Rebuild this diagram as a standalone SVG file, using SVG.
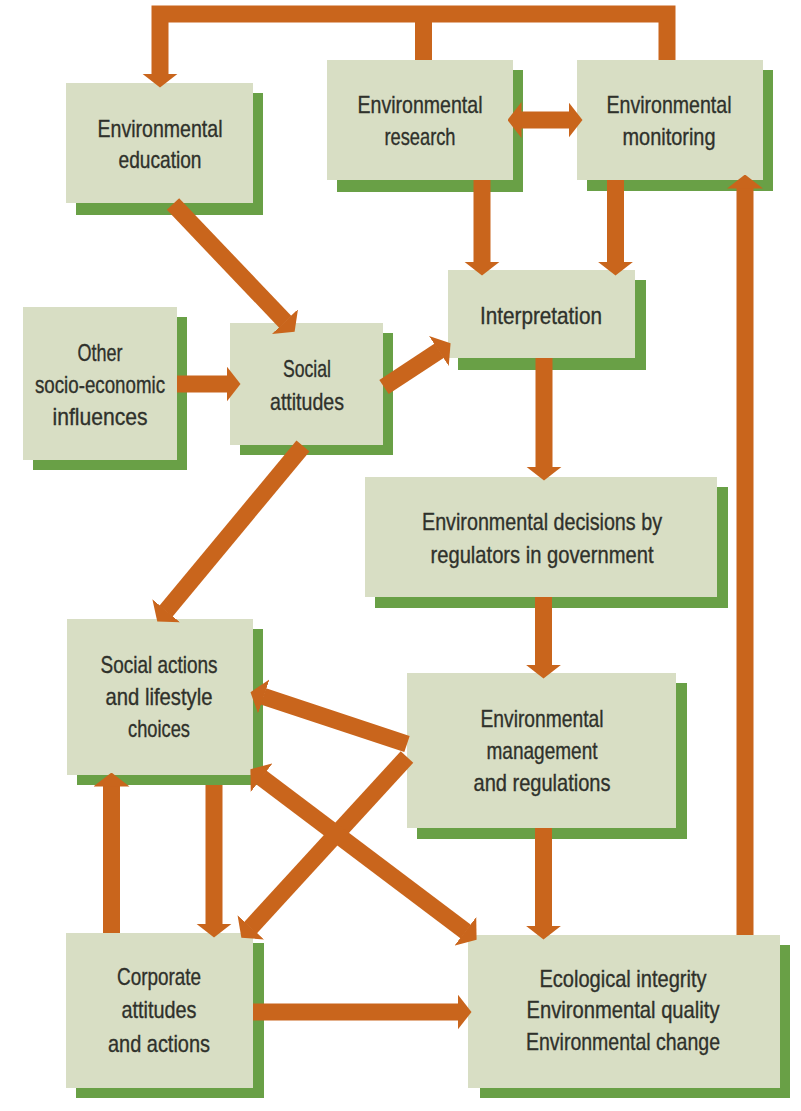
<svg xmlns="http://www.w3.org/2000/svg" width="801" height="1111" viewBox="0 0 801 1111">
<defs>
<style>
.box{fill:#d8dec4}
.sh{fill:#69a046}
.t{font-family:"Liberation Sans",Arial,sans-serif;font-size:24px;fill:#2f312b;stroke:#2f312b;stroke-width:0.35;text-anchor:middle}
.c{fill:none;stroke:#c9651c;stroke-width:17;stroke-linejoin:miter}
.a{marker-end:url(#ah)}
.d{marker-start:url(#ah);marker-end:url(#ah)}
</style>
<marker id="ah" markerUnits="userSpaceOnUse" viewBox="0 0 14 36" markerWidth="14" markerHeight="36" refX="0.5" refY="18" orient="auto-start-reverse">
<path d="M0,0 L14,18 L0,36 Z" fill="#c9651c"/>
</marker>
</defs>
<rect width="801" height="1111" fill="#ffffff"/>
<g id="n-edu"><rect class="sh" x="76" y="93" width="187" height="122"/><rect class="box" x="66" y="83" width="187" height="120"/><text class="t" x="160" y="137" textLength="125" lengthAdjust="spacingAndGlyphs">Environmental</text><text class="t" x="160" y="168" textLength="83" lengthAdjust="spacingAndGlyphs">education</text></g>
<g id="n-research"><rect class="sh" x="337" y="70" width="186" height="122"/><rect class="box" x="327" y="60" width="186" height="120"/><text class="t" x="420" y="113" textLength="125" lengthAdjust="spacingAndGlyphs">Environmental</text><text class="t" x="420" y="145" textLength="71" lengthAdjust="spacingAndGlyphs">research</text></g>
<g id="n-monitoring"><rect class="sh" x="587" y="70" width="186" height="121"/><rect class="box" x="577" y="60" width="186" height="120"/><text class="t" x="669" y="113" textLength="125" lengthAdjust="spacingAndGlyphs">Environmental</text><text class="t" x="669" y="145" textLength="93" lengthAdjust="spacingAndGlyphs">monitoring</text></g>
<g id="n-other"><rect class="sh" x="33" y="317" width="154" height="153"/><rect class="box" x="23" y="307" width="154" height="153"/><text class="t" x="100" y="361" textLength="45" lengthAdjust="spacingAndGlyphs">Other</text><text class="t" x="100" y="393" textLength="130" lengthAdjust="spacingAndGlyphs">socio-economic</text><text class="t" x="100" y="425" textLength="95" lengthAdjust="spacingAndGlyphs">influences</text></g>
<g id="n-socatt"><rect class="sh" x="240" y="333" width="153" height="122"/><rect class="box" x="230" y="323" width="153" height="122"/><text class="t" x="307" y="377" textLength="48" lengthAdjust="spacingAndGlyphs">Social</text><text class="t" x="307" y="410" textLength="74" lengthAdjust="spacingAndGlyphs">attitudes</text></g>
<g id="n-interp"><rect class="sh" x="458" y="280" width="188" height="90"/><rect class="box" x="448" y="270" width="187" height="88"/><text class="t" x="541" y="324" textLength="122" lengthAdjust="spacingAndGlyphs">Interpretation</text></g>
<g id="n-decisions"><rect class="sh" x="375" y="487" width="353" height="121"/><rect class="box" x="365" y="477" width="352" height="120"/><text class="t" x="542" y="530" textLength="240" lengthAdjust="spacingAndGlyphs">Environmental decisions by</text><text class="t" x="542" y="563" textLength="223" lengthAdjust="spacingAndGlyphs">regulators in government</text></g>
<g id="n-socact"><rect class="sh" x="77" y="629" width="186" height="156"/><rect class="box" x="67" y="619" width="186" height="156"/><text class="t" x="159" y="673" textLength="117" lengthAdjust="spacingAndGlyphs">Social actions</text><text class="t" x="159" y="705" textLength="107" lengthAdjust="spacingAndGlyphs">and lifestyle</text><text class="t" x="159" y="737" textLength="62" lengthAdjust="spacingAndGlyphs">choices</text></g>
<g id="n-mgmt"><rect class="sh" x="417" y="683" width="270" height="156"/><rect class="box" x="407" y="673" width="269" height="155"/><text class="t" x="542" y="727" textLength="123" lengthAdjust="spacingAndGlyphs">Environmental</text><text class="t" x="542" y="759" textLength="111" lengthAdjust="spacingAndGlyphs">management</text><text class="t" x="542" y="791" textLength="137" lengthAdjust="spacingAndGlyphs">and regulations</text></g>
<g id="n-corp"><rect class="sh" x="76" y="943" width="188" height="155"/><rect class="box" x="66" y="933" width="187" height="155"/><text class="t" x="159" y="985" textLength="84" lengthAdjust="spacingAndGlyphs">Corporate</text><text class="t" x="159" y="1018" textLength="75" lengthAdjust="spacingAndGlyphs">attitudes</text><text class="t" x="159" y="1052" textLength="102" lengthAdjust="spacingAndGlyphs">and actions</text></g>
<g id="n-eco"><rect class="sh" x="480" y="945" width="310" height="153"/><rect class="box" x="468" y="935" width="312" height="153"/><text class="t" x="623" y="987" textLength="167" lengthAdjust="spacingAndGlyphs">Ecological integrity</text><text class="t" x="623" y="1018" textLength="193" lengthAdjust="spacingAndGlyphs">Environmental quality</text><text class="t" x="623" y="1050" textLength="194" lengthAdjust="spacingAndGlyphs">Environmental change</text></g>
<g id="connectors">
<path class="c a" d="M667,60 V14 H160 V74"/>
<path class="c" d="M423.5,14 V60"/>
<path class="c d" d="M521,120 H569"/>
<path class="c a" d="M482,180 V262"/>
<path class="c a" d="M615.5,180 V262"/>
<path class="c a" d="M544,358 V467"/>
<path class="c a" d="M543.5,597 V665"/>
<path class="c a" d="M543.5,828 V926"/>
<path class="c a" d="M745,935 V188"/>
<path class="c a" d="M173,204 L285.3,321.9"/>
<path class="c a" d="M177,384 H227"/>
<path class="c a" d="M384,387 L439.3,350.7"/>
<path class="c a" d="M303,446 L165.9,611.2"/>
<path class="c a" d="M407,744 L263.3,696.4"/>
<path class="c a" d="M407,757 L250.5,927.7"/>
<path class="c d" d="M261.2,777.4 L465.8,931.6"/>
<path class="c a" d="M111.5,933 V786"/>
<path class="c a" d="M214,785 V924"/>
<path class="c a" d="M253,1012 H458"/>
</g>
</svg>
